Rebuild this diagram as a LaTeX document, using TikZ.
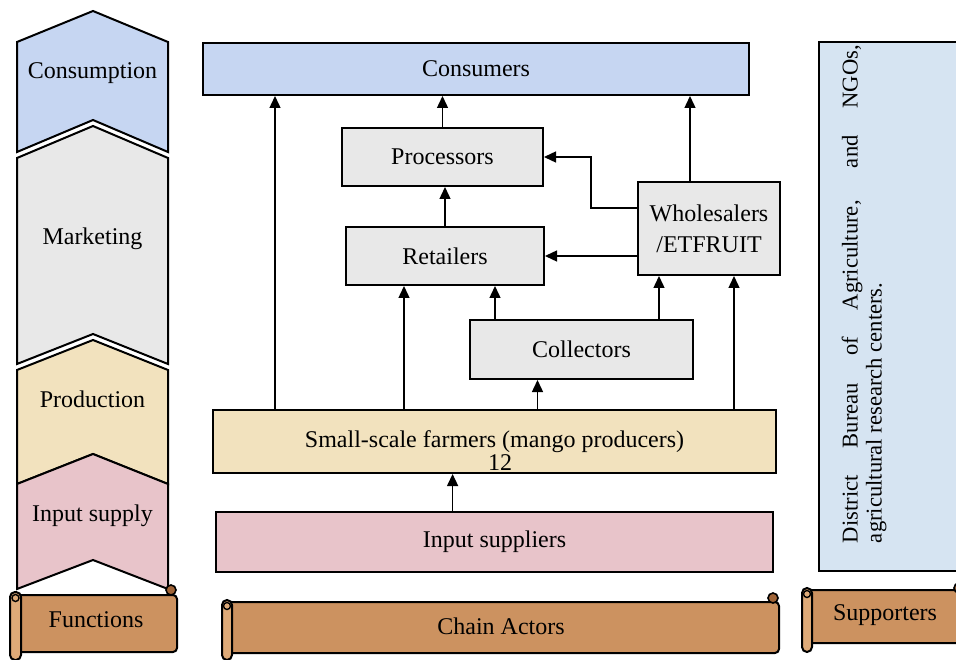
\documentclass[tikz,border=0pt]{standalone}
\usepackage{fontspec}
\setmainfont{Liberation Serif}
\usetikzlibrary{arrows.meta}
\definecolor{cblue}{RGB}{198,214,242}
\definecolor{cgray}{RGB}{232,232,232}
\definecolor{cbeige}{RGB}{242,226,190}
\definecolor{cpink}{RGB}{232,196,202}
\definecolor{cwood}{RGB}{204,146,96}
\definecolor{cwoodlight}{RGB}{222,170,120}
\definecolor{cwooddark}{RGB}{160,100,55}
\definecolor{csup}{RGB}{214,228,242}
\begin{document}
\begin{tikzpicture}[x=1pt,y=-1pt,
  txt/.style={font=\fontsize{24}{28}\selectfont},
  box/.style={draw=black, line width=2pt, rectangle, inner sep=0pt, txt},
  arr/.style={line width=1.4pt, -{Triangle[length=12pt,width=11pt]}},
  chev/.style={draw=black, line width=2pt, line join=miter},
  wood/.style={draw=black, line width=2pt, fill=cwood},
  roll/.style={draw=black, line width=2pt, fill=cwoodlight, rounded corners=5pt},
  curl/.style={draw=black, line width=1.6pt, fill=cwooddark},
]
\useasboundingbox (0,0) rectangle (956,660);
\clip (0,0) rectangle (956,660);

% ---------- functions column (chevrons) ----------
\path[chev, fill=cblue] (17,42) -- (93,11) -- (168,42) -- (168,152) -- (93,120) -- (17,152) -- cycle;
\path[chev, fill=cgray] (17,158) -- (93,126) -- (168,158) -- (168,364) -- (93,334) -- (17,364) -- cycle;
\path[chev, fill=cbeige] (17,370) -- (93,340) -- (168,370) -- (168,484) -- (93,454) -- (17,484) -- cycle;
\path[chev, fill=cpink] (17,484) -- (93,454) -- (168,484) -- (168,589) -- (93,560) -- (17,589) -- cycle;
\node[txt] (tconsumption) at (92.5,73) {Consumption};
\node[txt] (tmarketing) at (92.5,239) {Marketing};
\node[txt] (tproduction) at (92.5,399) {Production};
\node[txt] (tinput) at (92.5,516) {Input supply};

% ---------- scrolls ----------
\draw[wood, rounded corners=4pt] (16,595) rectangle (177,652);
\draw[roll] (10,592) rectangle (21,660);
\draw[line width=1.4pt] (15.5,598) circle (3.5pt);
\draw[curl] (171,590) circle (5pt);
\node[txt] (tfunctions) at (96,620) {Functions};

\draw[wood, rounded corners=4pt] (227,602) rectangle (779,653);
\draw[roll] (222,600) rectangle (232,660);
\draw[line width=1.4pt] (227,606) circle (3.5pt);
\draw[curl] (773,598) circle (5pt);
\node[txt] (tchain) at (501,626) {Chain Actors};

\draw[wood, rounded corners=4pt] (807,590) rectangle (980,643);
\draw[roll] (802,588) rectangle (812,652);
\draw[line width=1.4pt] (807,594) circle (3.5pt);
\draw[curl] (959,588) circle (5pt);
\node[txt] (tsupporters) at (885,615) {Supporters};

% ---------- supporters box ----------
\node[draw=black, line width=2pt, fill=csup, minimum width=170pt, minimum height=529pt, inner sep=0pt] (sup) at (904,306.5) {};
\node[rotate=90, font=\fontsize{22.6}{24}\selectfont, text width=498pt, inner sep=0pt, align=justify] (suptxt) at (864,294)
  {District Bureau of Agriculture, and NGOs,\linebreak agricultural research centers.};

% ---------- chain actor boxes ----------
\node[box, fill=cblue, minimum width=546pt, minimum height=52pt] (cons) at (476,69) {Consumers};
\node[box, fill=cgray, minimum width=201pt, minimum height=58pt] (proc) at (442.5,157) {Processors};
\node[box, fill=cgray, minimum width=198pt, minimum height=58pt] (ret) at (445,256) {Retailers};
\node[box, fill=cgray, minimum width=142pt, minimum height=93pt, align=center, font=\fontsize{24}{31}\selectfont] (whole) at (709,228.5) {Wholesalers\\/ETFRUIT};
\node[box, fill=cgray, minimum width=223pt, minimum height=59pt] (coll) at (581.5,349.5) {Collectors};
\node[box, fill=cbeige, minimum width=563pt, minimum height=63pt] (farm) at (494.5,441.5) {Small-scale farmers (mango producers)};
\node[txt, inner sep=0pt] (farmnum) at (500,463) {12};
\node[box, fill=cpink, minimum width=557pt, minimum height=60pt] (inp) at (494.5,542) {Input suppliers};

% ---------- connectors ----------
\draw[arr] (275,0 |- farm.north) -- (275,0 |- cons.south);
\draw[arr] (proc.north) -- (proc.north |- cons.south);
\draw[arr] (ret.north) -- (ret.north |- proc.south);
\draw[arr] (690,0 |- whole.north) -- (690,0 |- cons.south);
\draw[arr] (whole.west |- 0,208) -| (591,0 |- proc.east) -- (proc.east);
\draw[arr] (whole.west |- ret.east) -- (ret.east);
\draw[arr] (404,0 |- farm.north) -- (404,0 |- ret.south);
\draw[arr] (495,0 |- coll.north) -- (495,0 |- ret.south);
\draw[arr] (659,0 |- coll.north) -- (659,0 |- whole.south);
\draw[arr] (734,0 |- farm.north) -- (734,0 |- whole.south);
\draw[arr] (537.5,0 |- farm.north) -- (537.5,0 |- coll.south);
\draw[arr] (452.6,0 |- inp.north) -- (452.6,0 |- farm.south);
\end{tikzpicture}
\end{document}
